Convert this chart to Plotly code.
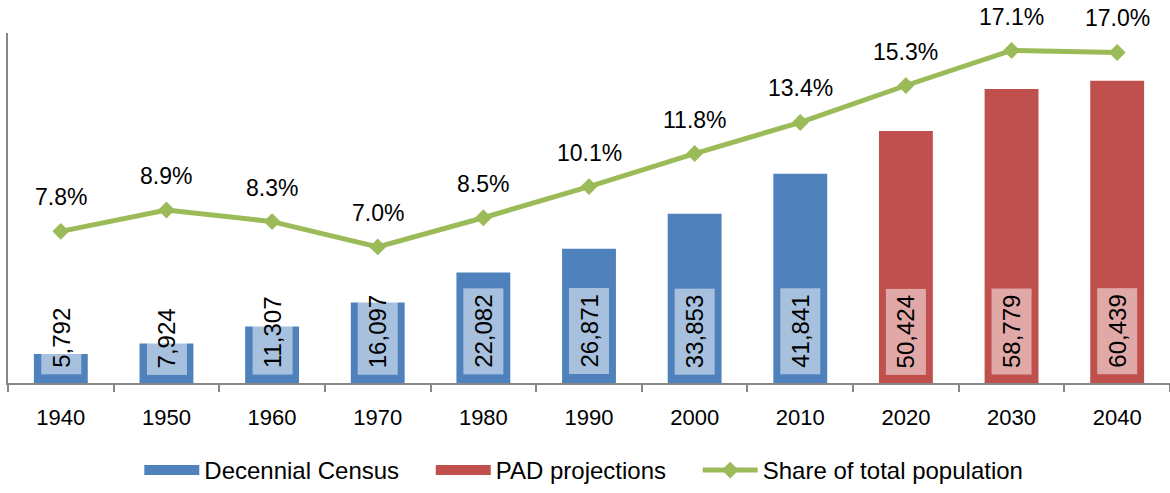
import plotly.graph_objects as go

years = ["1940", "1950", "1960", "1970", "1980", "1990", "2000", "2010", "2020", "2030", "2040"]
census_years = ["1940", "1950", "1960", "1970", "1980", "1990", "2000", "2010"]
census_values = [5792, 7924, 11307, 16097, 22082, 26871, 33853, 41841]
proj_years = ["2020", "2030", "2040"]
proj_values = [50424, 58779, 60439]
share = [0.078, 0.089, 0.083, 0.070, 0.085, 0.101, 0.118, 0.134, 0.153, 0.171, 0.170]

FONT = "Liberation Sans, Arial, sans-serif"
BLUE = "#4F81BD"
RED = "#C0504D"
GREEN = "#9BBB59"
PAD = "\u00a0" * 4  # trailing spacing between legend entries

fig = go.Figure()
fig.add_trace(go.Bar(x=census_years, y=census_values, name="Decennial Census", showlegend=False,
                     legendgroup="census", marker=dict(color=BLUE, line=dict(width=0))))
fig.add_trace(go.Bar(x=proj_years, y=proj_values, name="PAD projections", showlegend=False,
                     legendgroup="proj", marker=dict(color=RED, line=dict(width=0))))
# legend swatches (wide rectangles like the original)
fig.add_trace(go.Scatter(x=[None], y=[None], name="Decennial Census" + PAD, mode="lines",
                         legendgroup="census", line=dict(color=BLUE, width=18)))
fig.add_trace(go.Scatter(x=[None], y=[None], name="PAD projections" + PAD, mode="lines",
                         legendgroup="proj", line=dict(color=RED, width=18)))
fig.add_trace(go.Scatter(x=years, y=share, name="Share of total population", yaxis="y2",
                         mode="lines+markers",
                         line=dict(color=GREEN, width=5),
                         marker=dict(symbol="diamond", size=13, color=GREEN)))

annotations = []
for x, v in zip(census_years + proj_years, census_values + proj_values):
    annotations.append(dict(
        x=years.index(x), y=0, xref="x", yref="y", text=f"{v:,}", textangle=-90,
        showarrow=False, xanchor="center", yanchor="bottom", yshift=8,
        bgcolor="rgba(255,255,255,0.5)", borderpad=6,
        font=dict(family=FONT, size=24, color="black")))
for i, s in enumerate(share):
    annotations.append(dict(
        x=i, y=s, xref="x", yref="y2", text=f"{s*100:.1f}%",
        showarrow=False, xanchor="center", yanchor="bottom", yshift=19,
        font=dict(family=FONT, size=23, color="black")))

fig.update_layout(
    width=1170, height=493,
    margin=dict(l=8, r=0, t=33, b=110),
    paper_bgcolor="white", plot_bgcolor="white",
    barmode="overlay", bargap=0.49,
    font=dict(family=FONT, size=22, color="black"),
    xaxis=dict(type="category", categoryorder="array", categoryarray=years,
               range=[-0.5, len(years) - 0.5], autorange=False,
               showline=True, linecolor="#868686", linewidth=2,
               ticks="outside", tickson="boundaries", ticklen=7, tickcolor="#868686", tickwidth=2,
               ticklabelstandoff=14,
               showgrid=False, zeroline=False,
               tickfont=dict(family=FONT, size=22, color="black")),
    yaxis=dict(range=[0, 70000], autorange=False, showline=True, linecolor="#868686", linewidth=2,
               showticklabels=False, ticks="", showgrid=False, zeroline=False),
    yaxis2=dict(range=[0, 0.18], autorange=False, overlaying="y", side="right", showline=False,
                showticklabels=False, ticks="", showgrid=False, zeroline=False),
    legend=dict(orientation="h", x=0.113, xanchor="left", y=-0.25, yanchor="middle",
                font=dict(family=FONT, size=24, color="black"),
                itemwidth=55, tracegroupgap=0, traceorder="normal"),
    annotations=annotations,
)

fig.write_html("out.html", config={"displayModeBar": False},
               post_script="document.body.style.margin='0';")
